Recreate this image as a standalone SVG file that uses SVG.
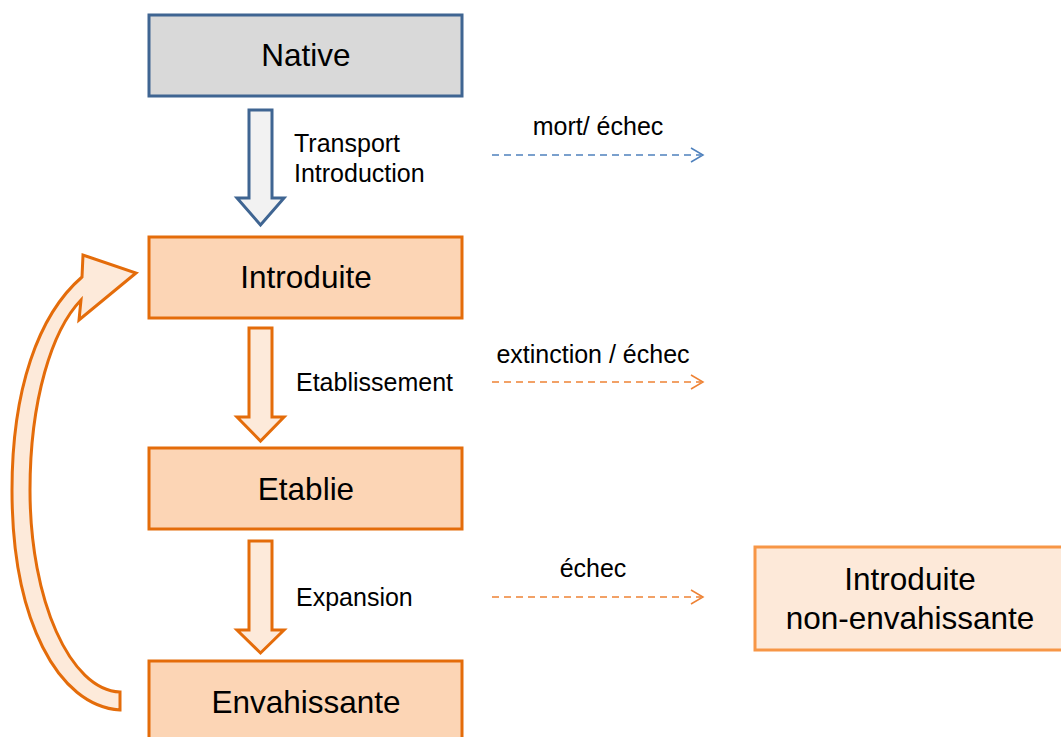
<svg xmlns="http://www.w3.org/2000/svg" width="1061" height="737" viewBox="0 0 1061 737">
<defs>
<style>
text{font-family:"Liberation Sans",Arial,sans-serif;fill:#000}
.node{stroke-width:3}
.orange{fill:#FCD5B5;stroke:#E46C0A}
.ntxt{font-size:31.5px;text-anchor:middle}
.lbl{font-size:25px}
.barrow{stroke-width:3;stroke-linejoin:miter}
.dash{fill:none;stroke-width:1.5;stroke-dasharray:7,5}
.chev{fill:none;stroke-width:1.5}
</style>
</defs>
<rect width="1061" height="737" fill="#fff"/>
<g id="native">
<rect class="node" x="149" y="15" width="313" height="81" fill="#D9D9D9" stroke="#3F6592"/>
<text class="ntxt" x="306" y="66">Native</text>
</g>
<g id="introduite">
<rect class="node orange" x="149" y="237" width="313" height="81"/>
<text class="ntxt" x="306" y="288">Introduite</text>
</g>
<g id="etablie">
<rect class="node orange" x="149" y="448" width="313" height="81"/>
<text class="ntxt" x="306" y="500">Etablie</text>
</g>
<g id="envahissante">
<rect class="node orange" x="149" y="661" width="313" height="90"/>
<text class="ntxt" x="306" y="713">Envahissante</text>
</g>
<g id="non-envahissante">
<rect class="node" x="755" y="547" width="310" height="103" fill="#FDE9D9" stroke="#F79646"/>
<text class="ntxt" x="910" y="590">Introduite</text>
<text class="ntxt" x="910" y="629">non-envahissante</text>
</g>
<g id="connectors">
<path class="barrow" d="M249,110 H272 V198 H284 L260.5,225 L237,198 H249 Z" fill="#F2F2F2" stroke="#3F6592"/>
<path class="barrow" d="M249,328 H272 V417 H284 L260.5,441 L237,417 H249 Z" fill="#FDEADA" stroke="#E46C0A"/>
<path class="barrow" d="M249,541 H272 V630 H284 L260.5,653 L237,630 H249 Z" fill="#FDEADA" stroke="#E46C0A"/>
<path class="barrow" d="M120,710 C58,706 12,620 12,490 C12,390 38,315 82,277 L83,255 L136,273 L79,320 L81,300 C52,330 30,400 30,490 C30,600 70,690 120,692 Z" fill="#FDEADA" stroke="#E46C0A"/>
<path class="dash" d="M492,155 H701" stroke="#4F81BD"/>
<path class="chev" d="M691,148 L703,155 L691,162" stroke="#4F81BD"/>
<path class="dash" d="M492,382 H701" stroke="#EE8234"/>
<path class="chev" d="M691,375 L703,382 L691,389" stroke="#EE8234"/>
<path class="dash" d="M492,597 H701" stroke="#EE8234"/>
<path class="chev" d="M691,590 L703,597 L691,604" stroke="#EE8234"/>
<text class="lbl" x="294" y="152">Transport</text>
<text class="lbl" x="294" y="182">Introduction</text>
<text class="lbl" x="296" y="391">Etablissement</text>
<text class="lbl" x="296" y="606">Expansion</text>
<text class="lbl" x="598" y="135" text-anchor="middle">mort/ échec</text>
<text class="lbl" x="593" y="363" text-anchor="middle">extinction / échec</text>
<text class="lbl" x="593" y="577" text-anchor="middle">échec</text>
</g>
</svg>
